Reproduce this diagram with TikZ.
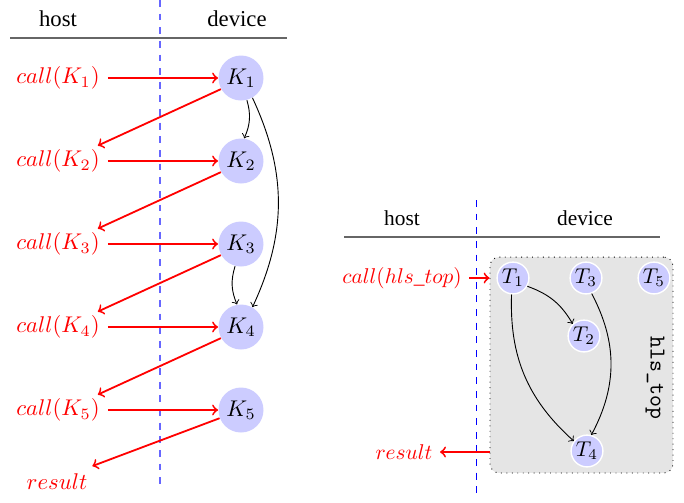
\documentclass[tikz,border=0pt]{standalone}
\usepackage[no-math]{fontspec}
\setmainfont{Liberation Serif}
\usetikzlibrary{calc}
\begin{document}
\begin{tikzpicture}[x=0.44pt,y=-0.44pt,
  knode/.style={circle,fill=blue!20,minimum size=19.8pt,inner sep=0pt},
  tnode/.style={circle,fill=blue!20,draw=white,line width=0.6pt,minimum size=14.9pt,inner sep=0pt,scale=0.94},
  calllbl/.style={text=red},
  small/.style={scale=0.94},
  callarrow/.style={->,red,thick},
  deparrow/.style={->,black},
  sepline/.style={black!60,line width=0.7pt},
  hdline/.style={dashed,blue!60,semithick}]
\useasboundingbox (0,0) rectangle (684,502);
% ---------- left panel ----------
\node (hostL) at (58,19) {host};
\node (devL) at (237,19) {device};
\draw[sepline] (10,38) -- (287,38);
\draw[hdline] (160,0) -- (160,486);
\foreach \i/\y in {1/78,2/161,3/244,4/327,5/410}{
  \node[knode] (K\i) at (241,\y) {$K_{\i}$};
  \node[calllbl] (c\i) at (58,\y) {$call(K_{\i})$};
  \draw[callarrow] (c\i.east) -- (K\i.west);
}
\node[calllbl] (res) at (57,482) {$result$};
\foreach \i/\j in {1/2,2/3,3/4,4/5}{
  \draw[callarrow] (K\i.209) -- ($(c\j.north east)+(-10,4)$);
}
\draw[callarrow] (K5.201) -- ($(res.north east)+(-3,0)$);
\draw[deparrow] (K1.-75) to[bend left=20] (K2.82);
\draw[deparrow] (K1.-60) to[bend left=25] (K4.60);
\draw[deparrow] (K3.-105) to[bend right=20] (K4.100);
% ---------- right panel ----------
\node[small] (hostR) at (402,218) {host};
\node[small] (devR) at (585,218) {device};
\draw[sepline] (344,237) -- (660,237);
\draw[dashed,blue,line width=0.4pt] (476,200) -- (476,497);
\node[rectangle,rounded corners=4pt,fill=black!10,draw=black,dotted,
  minimum width=80.5pt,minimum height=95pt] (box) at (581.5,365) {};
\node[rotate=-90,font=\ttfamily] (lbl) at (655,378) {hls\_top};
\node[tnode] (T1) at (513,278) {$T_1$};
\node[tnode] (T3) at (586,278) {$T_3$};
\node[tnode] (T5) at (654,278) {$T_5$};
\node[tnode] (T2) at (584,336) {$T_2$};
\node[tnode] (T4) at (587,451) {$T_4$};
\node[calllbl,small] (cR) at (402,278) {$call(hls\_top)$};
\node[calllbl,small] (resR) at (404,452) {$result$};
\draw[callarrow] (cR.east) -- (cR.east -| box.west);
\draw[callarrow] (box.west |- resR.east) -- (resR.east);
\draw[deparrow] (T1.-30) to[bend left=20] (T2.133);
\draw[deparrow] (T1.-95) to[bend right=25] (T4.143);
\draw[deparrow] (T3.-70) to[bend left=28] (T4.75);
\end{tikzpicture}
\end{document}
